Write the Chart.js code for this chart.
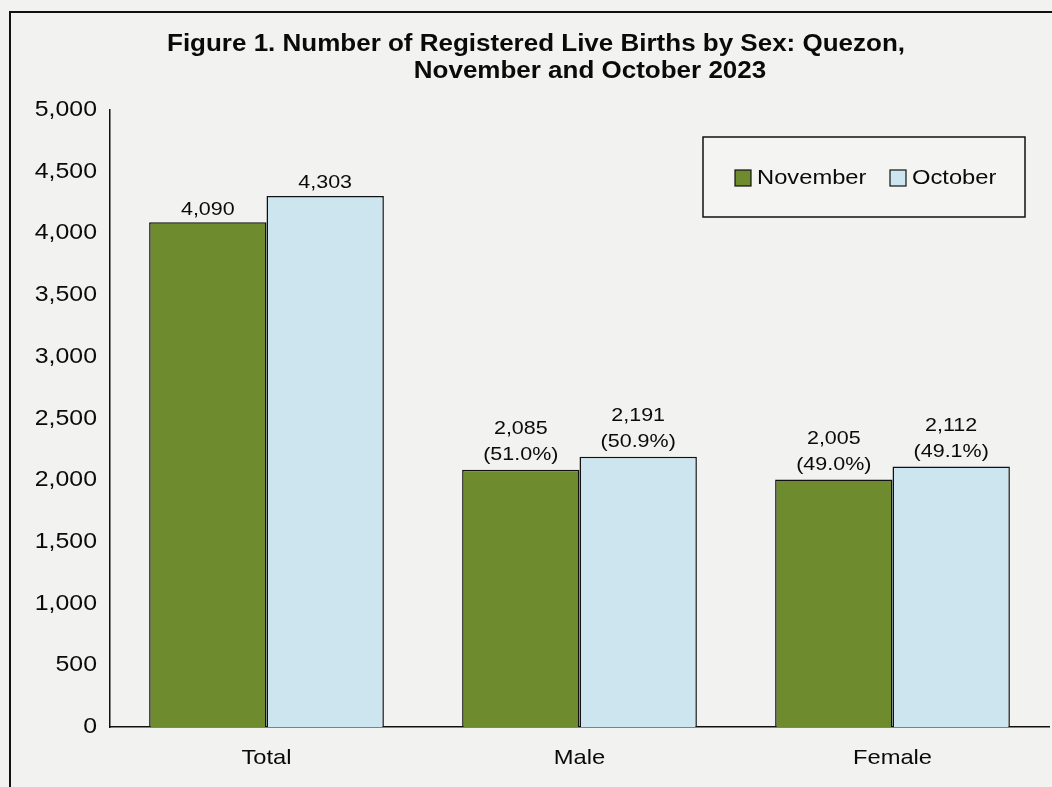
<!DOCTYPE html>
<html>
<head>
<meta charset="utf-8">
<script src="https://cdn.jsdelivr.net/npm/chart.js@4/dist/chart.umd.min.js"></script>
<style>
  html, body { margin:0; padding:0; background:#f2f2f0; }
  #wrap { position:relative; width:1052px; height:787px; }
</style>
</head>
<body>
<div id="wrap"><canvas id="birthChart" width="1052" height="787"></canvas></div>
<script>
// data
const categories = ['Total', 'Male', 'Female'];
const novemberValues = [4090, 2085, 2005];
const octoberValues = [4303, 2191, 2112];
const novemberShares = [null, '51.0%', '49.0%'];
const octoberShares = [null, '50.9%', '49.1%'];
const yTicks = [0, 500, 1000, 1500, 2000, 2500, 3000, 3500, 4000, 4500, 5000];
const titleLines = ['Figure 1. Number of Registered Live Births by Sex: Quezon,', 'November and October 2023'];

const FONT = '"Liberation Sans", Arial, sans-serif';
const STRETCH = 1.13;   // the scan is a little wider than tall
const fmt = v => v.toLocaleString('en-US');

// text helper, stretched sideways like the scanned original
function txt(c, s, x, y, align, font){
    c.save();
    c.font = font;
    c.textAlign = align;
    c.textBaseline = 'middle';
    c.translate(x, y);
    c.scale(STRETCH, 1);
    c.fillText(s, 0, 0);
    c.restore();
}

// frame + background
const framePlugin = {
    id: 'frame',
    beforeDraw(chart){
        const c = chart.ctx;
        c.save();
        c.fillStyle = '#f2f2f0';
        c.fillRect(0, 0, chart.width, chart.height);
        c.strokeStyle = '#111';
        c.lineWidth = 2;
        c.strokeRect(10, 12, chart.width + 20, chart.height + 20);
        c.restore();
    }
};

// axis labels drawn by hand so they can be stretched
const tickPlugin = {
    id: 'tickText',
    afterDraw(chart){
        const c = chart.ctx;
        c.fillStyle = '#0a0a0a';
        const y = chart.scales.y, x = chart.scales.x;
        yTicks.forEach(v=>{
            txt(c, fmt(v), y.right - 13, y.getPixelForValue(v), 'right', '22px ' + FONT);
        });
        categories.forEach((cat, i)=>{
            txt(c, cat, x.getPixelForValue(i), x.top + 31, 'center', '21px ' + FONT);
        });
    }
};

// two-line title, second line sits a bit right like in the original
const titlePlugin = {
    id: 'twoLineTitle',
    afterDraw(chart){
        const c = chart.ctx;
        c.fillStyle = '#0a0a0a';
        txt(c, titleLines[0], 536, 45, 'center', 'bold 23px ' + FONT);
        txt(c, titleLines[1], 590, 72, 'center', 'bold 23px ' + FONT);
    }
};

// boxed legend
const legendPlugin = {
    id: 'boxLegend',
    afterDraw(chart){
        const c = chart.ctx;
        c.save();
        c.fillStyle = '#f4f4f2';
        c.strokeStyle = '#111';
        c.lineWidth = 1.5;
        c.fillRect(703, 137, 322, 80);
        c.strokeRect(703, 137, 322, 80);
        const xs = [735, 890];
        chart.data.datasets.forEach((ds, i)=>{
            c.fillStyle = ds.backgroundColor;
            c.fillRect(xs[i], 170, 16, 16);
            c.lineWidth = 1.2;
            c.strokeRect(xs[i], 170, 16, 16);
            c.fillStyle = '#0a0a0a';
            txt(c, ds.label, xs[i] + 22, 178, 'left', '21px ' + FONT);
        });
        c.restore();
    }
};

// value labels above bars
const labelPlugin = {
    id: 'barLabels',
    afterDatasetsDraw(chart){
        const c = chart.ctx;
        c.fillStyle = '#0a0a0a';
        const f = '19px ' + FONT;
        chart.data.datasets.forEach((ds, i)=>{
            const meta = chart.getDatasetMeta(i);
            meta.data.forEach((bar, j)=>{
                const share = ds.shares[j];
                if(share){
                    txt(c, fmt(ds.data[j]), bar.x, bar.y - 41, 'center', f);
                    txt(c, '(' + share + ')', bar.x, bar.y - 15, 'center', f);
                } else {
                    txt(c, fmt(ds.data[j]), bar.x, bar.y - 13, 'center', f);
                }
            });
        });
    }
};

const ctx = document.getElementById('birthChart').getContext('2d');
new Chart(ctx, {
    type: 'bar',
    data: {
        labels: categories,
        datasets: [
            {label:'November', data:novemberValues, shares:novemberShares, backgroundColor:'#6e8b2e', borderColor:'#111', borderWidth:1.5},
            {label:'October', data:octoberValues, shares:octoberShares, backgroundColor:'#cde5ee', borderColor:'#111', borderWidth:1.5}
        ]
    },
    options: {
        responsive:false,
        animation:false,
        devicePixelRatio:1,
        layout:{ padding:{ top:110, right:3, left:0, bottom:0 } },
        datasets:{ bar:{ categoryPercentage:0.75, barPercentage:1 } },
        plugins:{ legend:{ display:false }, title:{ display:false }, tooltip:{ enabled:false } },
        scales:{
            x:{
                grid:{ display:false },
                border:{ display:true, color:'#111', width:1.5 },
                ticks:{ display:false },
                afterFit(scale){ scale.height = 60; }
            },
            y:{
                min:0, max:5000,
                grid:{ display:false },
                border:{ display:true, color:'#111', width:1.5 },
                afterBuildTicks(scale){ scale.ticks = yTicks.map(v=>({value:v})); },
                ticks:{ display:false },
                afterFit(scale){ scale.width = 110; }
            }
        }
    },
    plugins:[framePlugin, tickPlugin, titlePlugin, legendPlugin, labelPlugin]
});
</script>
</body>
</html>
